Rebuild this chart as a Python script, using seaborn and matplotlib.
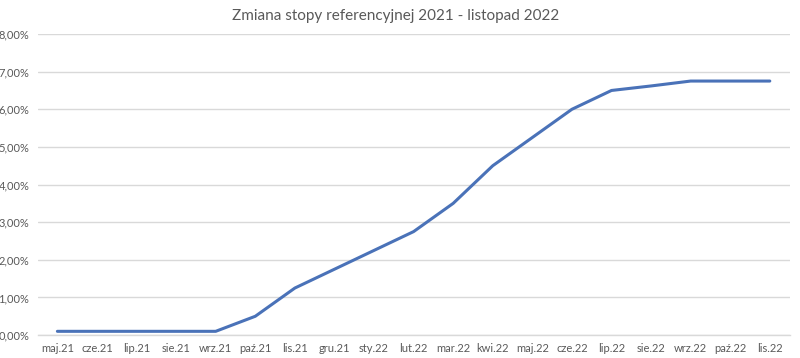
import matplotlib
matplotlib.use("Agg")
import matplotlib.pyplot as plt
import seaborn as sns
import pandas as pd
from matplotlib.ticker import FuncFormatter, FixedLocator

months = ["maj.21", "cze.21", "lip.21", "sie.21", "wrz.21", "paź.21", "lis.21",
          "gru.21", "sty.22", "lut.22", "mar.22", "kwi.22", "maj.22", "cze.22",
          "lip.22", "sie.22", "wrz.22", "paź.22", "lis.22"]
rates = [0.10, 0.10, 0.10, 0.10, 0.10, 0.50, 1.25, 1.75, 2.25, 2.75, 3.50,
         4.50, 5.25, 6.00, 6.50, 6.62, 6.75, 6.75, 6.75]
title = "Zmiana stopy referencyjnej 2021 - listopad 2022"

df = pd.DataFrame({"pos": range(len(months)), "rate": rates})

sns.set_style("white")
plt.rcParams["font.family"] = ["Lato", "DejaVu Sans"]

fig = plt.figure(figsize=(8, 3.58), dpi=100)
ax = fig.add_axes([0.047, 0.064, 0.94, 0.841])

sns.lineplot(data=df, x="pos", y="rate", ax=ax, color="#4A72B8",
             linewidth=2.2, sort=False, zorder=3)

ax.set_xlim(-0.5, len(months) - 0.5)
ax.set_ylim(0, 8)
ax.set_yticks(range(0, 9))
ax.yaxis.set_major_formatter(FuncFormatter(lambda v, p: f"{v:.2f}%".replace(".", ",")))
ax.set_xticks(range(len(months)))
ax.set_xticklabels(months)
ax.xaxis.set_minor_locator(FixedLocator([i - 0.5 for i in range(len(months) + 1)]))

ax.grid(axis="y", color="#d9d9d9", linewidth=1, zorder=0)
for s in ["top", "right", "left"]:
    ax.spines[s].set_visible(False)
ax.spines["bottom"].set_color("#d9d9d9")
ax.spines["bottom"].set_linewidth(1)

ax.tick_params(axis="x", which="major", length=0, labelsize=8, labelcolor="#595959", pad=6)
ax.tick_params(axis="x", which="minor", length=5, color="#d9d9d9", width=1, direction="out")
ax.tick_params(axis="y", length=0, labelsize=8, labelcolor="#595959", pad=6)
ax.set_xlabel("")
ax.set_ylabel("")

fig.text(0.495, 0.955, title, ha="center", va="center", fontsize=11, color="#595959")

fig.savefig("out.png", dpi=100, facecolor="white")
